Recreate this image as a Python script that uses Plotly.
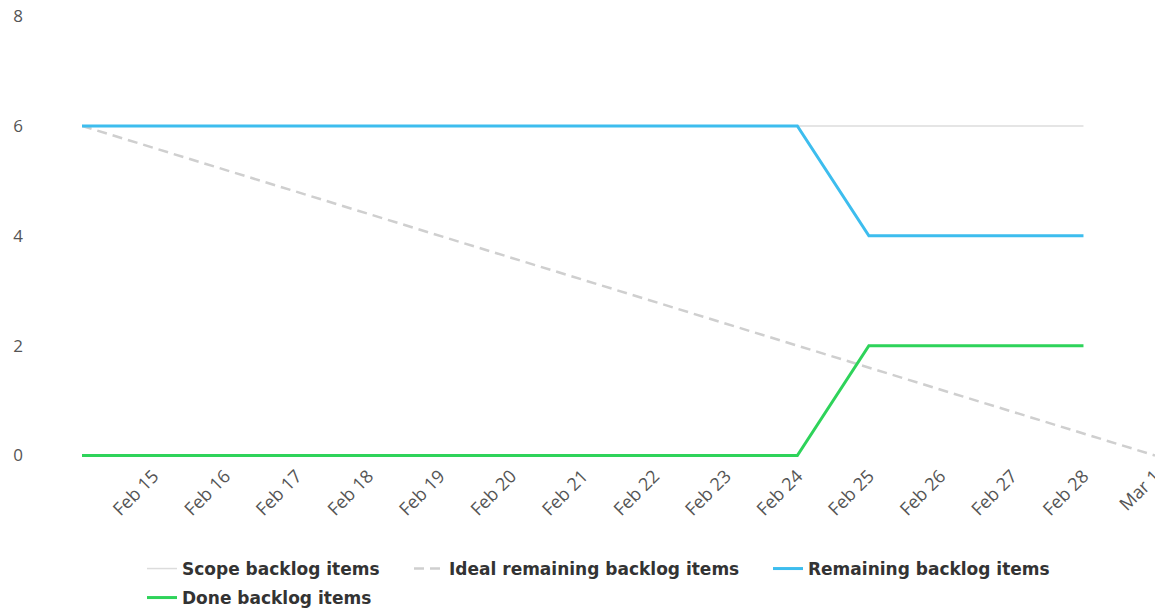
import plotly.graph_objects as go

dates = ["2023-02-14", "2023-02-15", "2023-02-16", "2023-02-17", "2023-02-18",
         "2023-02-19", "2023-02-20", "2023-02-21", "2023-02-22", "2023-02-23",
         "2023-02-24", "2023-02-25", "2023-02-26", "2023-02-27", "2023-02-28"]
scope = [6] * 15
remaining = [6, 6, 6, 6, 6, 6, 6, 6, 6, 6, 6, 4, 4, 4, 4]
done = [0, 0, 0, 0, 0, 0, 0, 0, 0, 0, 0, 2, 2, 2, 2]
ideal_dates = ["2023-02-14", "2023-03-01"]
ideal = [6, 0]

tick_dates = ["2023-02-15", "2023-02-16", "2023-02-17", "2023-02-18", "2023-02-19",
              "2023-02-20", "2023-02-21", "2023-02-22", "2023-02-23", "2023-02-24",
              "2023-02-25", "2023-02-26", "2023-02-27", "2023-02-28", "2023-03-01"]
tick_labels = ["Feb 15", "Feb 16", "Feb 17", "Feb 18", "Feb 19", "Feb 20", "Feb 21",
               "Feb 22", "Feb 23", "Feb 24", "Feb 25", "Feb 26", "Feb 27", "Feb 28", "Mar 1"]
y_ticks = [0, 2, 4, 6, 8]

fig = go.Figure()
fig.add_trace(go.Scatter(x=dates, y=scope, mode="lines", name="Scope backlog items",
                         line=dict(color="#dcdcdc", width=1.5), legend="legend"))
fig.add_trace(go.Scatter(x=ideal_dates, y=ideal, mode="lines", name="Ideal remaining backlog items",
                         line=dict(color="#cfcfcf", width=2.5, dash="10px,6px"), legend="legend2"))
fig.add_trace(go.Scatter(x=dates, y=remaining, mode="lines", name="Remaining backlog items",
                         line=dict(color="#3dbdee", width=3), legend="legend3"))
fig.add_trace(go.Scatter(x=dates, y=done, mode="lines", name="Done backlog items",
                         line=dict(color="#2ed35a", width=3), legend="legend4"))

legend_font = dict(family="DejaVu Sans", size=17, color="#333333", weight="bold")
def leg(xpx, ypx):
    return dict(x=(xpx - 82) / 1073, y=(461 - ypx) / 445, xanchor="left", yanchor="middle",
                orientation="h", font=legend_font, bgcolor="rgba(0,0,0,0)", itemwidth=30)

fig.update_layout(
    width=1163, height=613,
    margin=dict(l=74, r=16, t=8, b=160, autoexpand=False),
    paper_bgcolor="white", plot_bgcolor="white",
    showlegend=True,
    legend=leg(142, 569),
    legend2=leg(409, 569),
    legend3=leg(768, 569),
    legend4=leg(142, 598),
    xaxis=dict(type="date", range=["2023-02-14", "2023-03-01"], tickvals=tick_dates,
               ticktext=tick_labels, tickangle=-45, showgrid=False, zeroline=False,
               showline=False, ticks="", ticklabeloverflow="allow",
               tickfont=dict(family="Open Sans", size=18, color="#555555")),
    yaxis=dict(range=[-0.1, 8], tickvals=y_ticks, showgrid=False, zeroline=False,
               showline=False, ticks="", ticklabelstandoff=58, ticklabeloverflow="allow",
               tickfont=dict(family="Open Sans", size=17, color="#555555")),
)

fig.write_html("out.html")
